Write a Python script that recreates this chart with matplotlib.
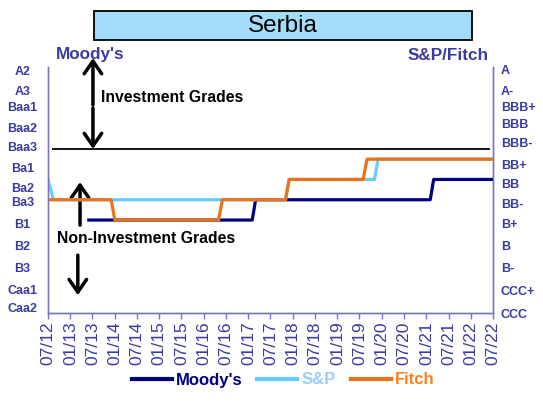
import numpy as np
import pandas as pd
import matplotlib
matplotlib.use("Agg")
import matplotlib.pyplot as plt
from matplotlib.patches import Rectangle

plt.rcParams['font.family'] = ['Liberation Sans', 'DejaVu Sans']

# Rating scales, lowest first
moodys_scale = ['Caa2', 'Caa1', 'B3', 'B2', 'B1', 'Ba3', 'Ba2', 'Ba1',
                'Baa3', 'Baa2', 'Baa1', 'A3', 'A2']
sp_scale = ['CCC', 'CCC+', 'B-', 'B', 'B+', 'BB-', 'BB', 'BB+',
            'BBB-', 'BBB', 'BBB+', 'A-', 'A']

# Rating history
moodys_dates = ['2013-06-01', '2017-02-01', '2017-03-01', '2021-02-01',
                '2021-03-01', '2022-07-01']
moodys_ratings = ['B1', 'B1', 'Ba3', 'Ba3', 'Ba2', 'Ba2']

sp_dates = ['2012-07-01', '2012-08-15', '2017-11-01', '2017-12-01',
            '2019-11-01', '2019-12-01', '2022-07-01']
sp_ratings = ['BB', 'BB-', 'BB-', 'BB', 'BB', 'BB+', 'BB+']

fitch_dates = ['2012-07-01', '2013-12-01', '2014-01-01', '2016-05-01',
               '2016-06-01', '2017-11-01', '2017-12-01', '2019-08-01',
               '2019-09-01', '2022-07-01']
fitch_ratings = ['BB-', 'BB-', 'B+', 'B+', 'BB-', 'BB-', 'BB', 'BB',
                 'BB+', 'BB+']

# label placement (layout only)
left_label_y = [-0.29, 0.6, 1.64, 2.77, 3.85, 4.9, 5.6, 6.6, 7.6, 8.58,
                9.57, 10.4, 11.39]
right_label_y = [-0.58, 0.55, 1.64, 2.77, 3.85, 4.8, 5.8, 6.76, 7.8, 8.77,
                 9.57, 10.4, 11.44]

navy = '#000080'
light = '#66CCFF'
orange = '#E8731A'
label_blue = '#3A3AA0'
spine_col = '#7777BB'

W, H = 543, 401
fig = plt.figure(figsize=(W / 100, H / 100), dpi=100)
ax = fig.add_axes([48 / W, 1 - 313 / H, 445 / W, 246 / H])

def levels(ratings, scale):
    return [scale.index(r) for r in ratings]

ax.plot(pd.to_datetime(moodys_dates), levels(moodys_ratings, moodys_scale),
        color=navy, lw=2.3, zorder=3)
ax.plot(pd.to_datetime(sp_dates), levels(sp_ratings, sp_scale),
        color=light, lw=2.3, zorder=4)
ax.plot(pd.to_datetime(fitch_dates), levels(fitch_ratings, sp_scale),
        color=orange, lw=2.3, zorder=5)

# investment grade boundary
ax.axhline(7.5, xmin=0.012, xmax=0.99, color='black', lw=1.3, zorder=2)

ax.set_xlim(pd.Timestamp('2012-07-01'), pd.Timestamp('2022-07-01'))
ax.set_ylim(-0.58, 11.54)

ticks = pd.date_range('2012-07-01', '2022-07-01', freq='6MS')
ax.set_xticks(ticks)
ax.set_xticklabels([t.strftime('%m/%y') for t in ticks], rotation=90,
                   fontsize=12.5, color=label_blue)
ax.tick_params(axis='x', length=4, width=1, color=spine_col, pad=2)

ax.set_yticks(left_label_y)
ax.set_yticklabels(moodys_scale, fontsize=9, fontweight='bold', color=label_blue)
ax.tick_params(axis='y', length=0, pad=18.5)
for t in ax.get_yticklabels():
    t.set_ha('center')

ax2 = ax.twinx()
ax2.set_ylim(ax.get_ylim())
ax2.set_yticks(right_label_y)
ax2.set_yticklabels(sp_scale, fontsize=9, fontweight='bold', color=label_blue)
ax2.tick_params(axis='y', length=0, pad=5.5)

for a in (ax, ax2):
    a.spines['top'].set_visible(False)
    for s in ('left', 'right', 'bottom'):
        a.spines[s].set_color(spine_col)
        a.spines[s].set_linewidth(1)

# arrows
arrow = dict(arrowstyle='->,head_length=0.65,head_width=0.45', lw=2.5,
             color='black', mutation_scale=14, shrinkA=0, shrinkB=0)
coords = ('axes fraction', 'data')
ax.annotate('', xy=(0.101, 11.98), xytext=(0.101, 9.67), xycoords=coords,
            arrowprops=arrow, annotation_clip=False)
ax.annotate('', xy=(0.101, 7.5), xytext=(0.101, 9.52), xycoords=coords,
            arrowprops=arrow, annotation_clip=False)
ax.annotate('', xy=(0.072, 5.87), xytext=(0.072, 3.75), xycoords=coords,
            arrowprops=arrow, annotation_clip=False)
ax.annotate('', xy=(0.067, 0.30), xytext=(0.067, 2.27), xycoords=coords,
            arrowprops=arrow, annotation_clip=False)

fig.text(101 / W, 1 - 98 / H, 'Investment Grades', fontsize=11.3,
         fontweight='bold', va='center', ha='left')
fig.text(57 / W, 1 - 239 / H, 'Non-Investment Grades', fontsize=11.3,
         fontweight='bold', va='center', ha='left')

fig.text(90 / W, 1 - 55 / H, "Moody's", fontsize=12.3, fontweight='bold',
         color=label_blue, ha='center', va='center')
fig.text(489 / W, 1 - 55 / H, 'S&P/Fitch', fontsize=12.3, fontweight='bold',
         color=label_blue, ha='right', va='center')

# title box
fig.patches.append(Rectangle((94 / W, 1 - 40 / H), 378 / W, 29 / H,
                             transform=fig.transFigure, facecolor='#A3DDFA',
                             edgecolor='black', lw=1.3))
fig.text(283 / W, 1 - 26 / H, 'Serbia', fontsize=17.5, ha='center', va='center')

# legend
h1, = ax.plot([], [], color=navy, lw=3)
h2, = ax.plot([], [], color=light, lw=3)
h3, = ax.plot([], [], color=orange, lw=3)
leg = fig.legend([h1, h2, h3], ["Moody's", 'S&P', 'Fitch'], loc='center',
                 bbox_to_anchor=(283 / W, 1 - 380 / H), ncol=3, frameon=False,
                 handlelength=2.4, handletextpad=0.25, columnspacing=0.9,
                 prop={'weight': 'bold', 'size': 12})
for txt, c in zip(leg.get_texts(), [navy, '#99CCFF', '#FF7F1A']):
    txt.set_color(c)

fig.savefig('out.png', dpi=100)
